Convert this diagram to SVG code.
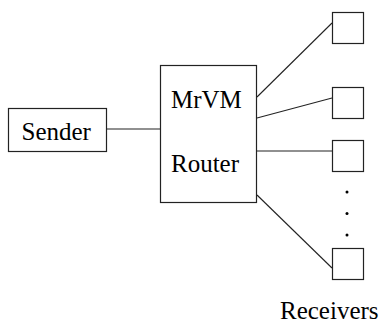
<svg xmlns="http://www.w3.org/2000/svg" width="380" height="324" viewBox="0 0 380 324">
  <style>
    .box { fill: #ffffff; stroke: #222222; stroke-width: 1.2; }
    .wire { stroke: #222222; stroke-width: 1.1; fill: none; }
    .lbl { font-family: "Liberation Serif", "Times New Roman", serif; font-size: 25px; fill: #000000; }
    .dot { fill: #000000; }
  </style>
  <rect width="380" height="324" fill="#ffffff"/>

  <!-- connectors -->
  <g id="connectors">
    <line class="wire" x1="107" y1="129" x2="160" y2="129"/>
    <line class="wire" x1="257" y1="97" x2="332" y2="23"/>
    <line class="wire" x1="257" y1="118" x2="332" y2="98"/>
    <line class="wire" x1="257" y1="151" x2="332" y2="151"/>
    <line class="wire" x1="257" y1="195" x2="332" y2="268"/>
  </g>

  <g id="sender">
    <rect class="box" x="8.5" y="108.5" width="98" height="43"/>
    <text class="lbl" x="21.5" y="140">Sender</text>
  </g>

  <g id="router">
    <rect class="box" x="160.5" y="65.5" width="96" height="137"/>
    <text class="lbl" x="171" y="108">MrVM</text>
    <text class="lbl" x="171" y="172">Router</text>
  </g>

  <g id="receiver1">
    <rect class="box" x="332.5" y="12.5" width="31" height="31"/>
  </g>
  <g id="receiver2">
    <rect class="box" x="332.5" y="87.5" width="31" height="31"/>
  </g>
  <g id="receiver3">
    <rect class="box" x="332.5" y="140.5" width="31" height="31"/>
  </g>
  <g id="receiver4">
    <rect class="box" x="332.5" y="248.5" width="31" height="31"/>
  </g>

  <g id="ellipsis">
    <circle class="dot" cx="347" cy="192" r="1.5"/>
    <circle class="dot" cx="347" cy="213.5" r="1.5"/>
    <circle class="dot" cx="347" cy="235" r="1.5"/>
  </g>

  <g id="receivers-label">
    <text class="lbl" x="280" y="319">Receivers</text>
  </g>
</svg>
